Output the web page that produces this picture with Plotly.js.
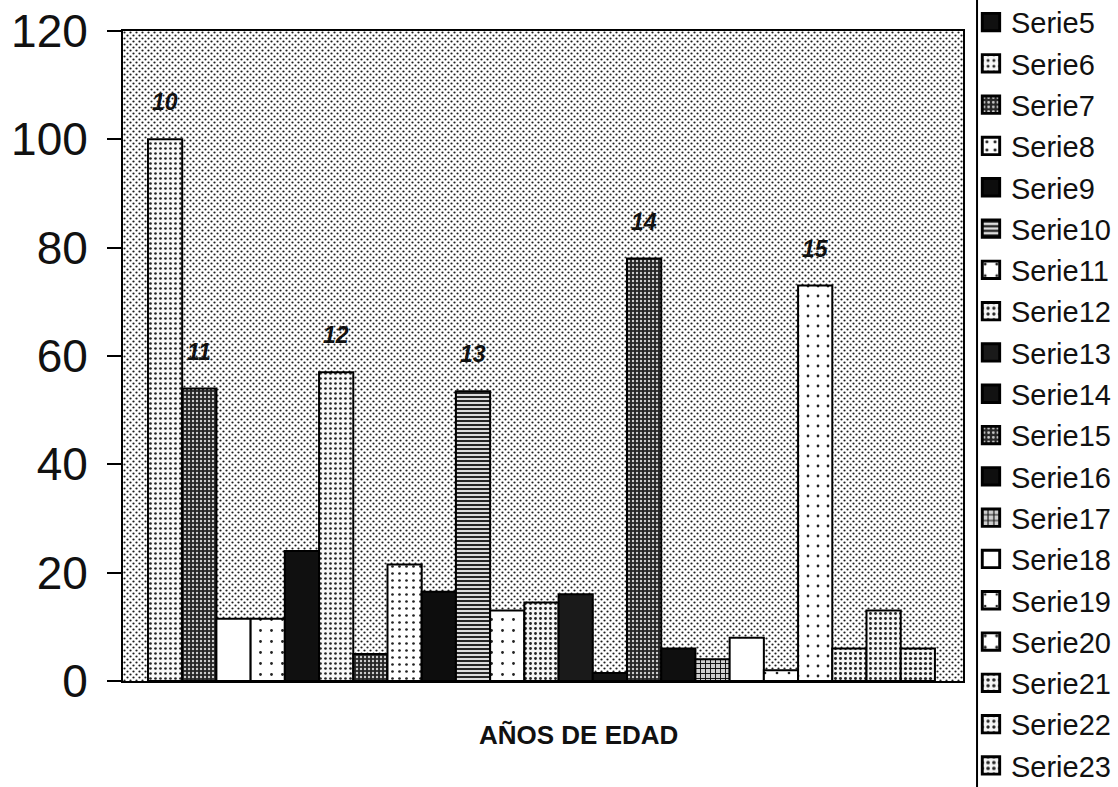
<!DOCTYPE html>
<html>
<head>
<meta charset="utf-8">
<script src="https://cdn.plot.ly/plotly-3.0.1.min.js"></script>
<style>html,body{margin:0;padding:0;background:#fff;}#chart{width:1118px;height:787px;}</style>
</head>
<body>
<div id="chart"></div>
<script>
// ---- data ----
const seriesNames = ['Serie1','Serie2','Serie3','Serie4','Serie5','Serie6','Serie7','Serie8','Serie9','Serie10','Serie11','Serie12','Serie13','Serie14','Serie15','Serie16','Serie17','Serie18','Serie19','Serie20','Serie21','Serie22','Serie23'];
const values = [100, 54, 11.5, 11.5, 24, 57, 5, 21.5, 16.5, 53.5, 13, 14.5, 16, 1.5, 78, 6, 4, 8, 2, 73, 6, 13, 6];
const ageLabels = ['10','11','','','','12','','','','13','','','','','14','','','','','15','','',''];
const yTicks = [0, 20, 40, 60, 80, 100, 120];
const xTitle = 'AÑOS DE EDAD';
const firstLegendSeries = 5; // legend in the reference starts at Serie5 (top cut off)

// ---- styles (fill patterns of the black & white original) ----
const P = (color, shape, fg, bg, size, solidity) => ({color, shape, fg, bg, size, solidity});
const styles = [
  P('#f4f4f4', '.', '#222', '#f7f7f7', 5, 0.22),
  P('#2b2b2b', '.', '#cfcfcf', '#262626', 4, 0.28),
  P('#ffffff', '', '#000', '#fff', 8, 0.1),
  P('#ffffff', '.', '#222', '#ffffff', 11, 0.05),
  P('#101010', '', '#000', '#101010', 8, 0.1),
  P('#f4f4f4', '.', '#222', '#f7f7f7', 5, 0.22),
  P('#2b2b2b', '.', '#cfcfcf', '#262626', 4, 0.28),
  P('#ffffff', '.', '#222', '#ffffff', 7, 0.12),
  P('#0d0d0d', '', '#000', '#0d0d0d', 8, 0.1),
  P('#7a7a7a', '-', '#111', '#dcdcdc', 4, 0.45),
  P('#ffffff', '.', '#222', '#ffffff', 11, 0.05),
  P('#eeeeee', '.', '#222', '#f5f5f5', 5, 0.25),
  P('#1a1a1a', '', '#000', '#1a1a1a', 8, 0.1),
  P('#121212', '', '#000', '#121212', 8, 0.1),
  P('#2b2b2b', '.', '#cfcfcf', '#262626', 4, 0.28),
  P('#0f0f0f', '', '#000', '#0f0f0f', 8, 0.1),
  P('#888888', '+', '#111', '#cfcfcf', 5, 0.35),
  P('#ffffff', '', '#000', '#fff', 8, 0.1),
  P('#ffffff', '.', '#222', '#ffffff', 12, 0.04),
  P('#ffffff', '.', '#222', '#ffffff', 10, 0.06),
  P('#eeeeee', '.', '#222', '#f5f5f5', 5, 0.28),
  P('#eeeeee', '.', '#222', '#f5f5f5', 5, 0.25),
  P('#eeeeee', '.', '#222', '#f5f5f5', 5, 0.3)
];

const traces = seriesNames.map((name, i) => {
  const s = styles[i];
  const marker = {color: s.color, line: {color: '#000', width: 2}};
  if (s.shape) marker.pattern = {shape: s.shape, fgcolor: s.fg, bgcolor: s.bg, size: s.size, solidity: s.solidity, fillmode: 'replace'};
  return {
    type: 'bar', name: name, x: [name], y: [values[i]],
    marker: marker, width: 1, legendgroup: name,
    showlegend: (i + 1) >= firstLegendSeries,
    hoverinfo: 'name+y'
  };
});

const annotations = seriesNames.map((name, i) => ageLabels[i] ? {
  x: name, y: values[i], xref: 'x', yref: 'y', text: '<b><i>' + ageLabels[i] + '</i></b>', showarrow: false,
  yanchor: 'middle', yshift: 37,
  font: {family: 'Liberation Sans, Arial, sans-serif', size: 23, color: '#111'}
} : null).filter(a => a);

annotations.push({
  xref: 'paper', yref: 'paper', x: 0.5417, y: 0, yshift: -54, xanchor: 'center', yanchor: 'middle',
  text: '<b>' + xTitle + '</b>', showarrow: false,
  font: {family: 'Liberation Sans, Arial, sans-serif', size: 26, color: '#111'}
});

// dotted screen of the plot area background
const svg = '<svg xmlns="http://www.w3.org/2000/svg" width="840" height="650" viewBox="0 0 840 650" preserveAspectRatio="none">' +
  '<defs><pattern id="p" width="6" height="6" patternUnits="userSpaceOnUse">' +
  '<rect width="6" height="6" fill="#ffffff"/>' +
  '<circle cx="1.5" cy="1.5" r="1.1" fill="#1e1e1e"/><circle cx="4.5" cy="4.5" r="1.1" fill="#1e1e1e"/>' +
  '</pattern></defs><rect width="840" height="650" fill="url(#p)"/></svg>';

const layout = {
  width: 1118, height: 787,
  margin: {l: 123, r: 155, t: 31, b: 106, autoexpand: false},
  paper_bgcolor: '#ffffff',
  plot_bgcolor: 'rgba(0,0,0,0)',
  barmode: 'overlay', bargap: 0,
  font: {family: 'Liberation Sans, Arial, sans-serif', color: '#111'},
  xaxis: {
    type: 'category', categoryarray: seriesNames, categoryorder: 'array',
    range: [-1.23, 23.32], showticklabels: false, ticks: '', showgrid: false, zeroline: false,
    showline: true, linecolor: '#000', linewidth: 2, mirror: true, fixedrange: true
  },
  yaxis: {
    range: [0, 120], tickvals: yTicks, ticks: 'outside', ticklen: 14, tickwidth: 2, tickcolor: '#000',
    showgrid: false, zeroline: false, showline: true, linecolor: '#000', linewidth: 2, mirror: true,
    tickfont: {family: 'Liberation Sans, Arial, sans-serif', size: 46, color: '#111'},
    ticklabelstandoff: 10, fixedrange: true
  },
  legend: {
    x: 1.0095, xanchor: 'left', y: 1.0528, yanchor: 'top',
    font: {family: 'Liberation Sans, Arial, sans-serif', size: 29, color: '#111'},
    traceorder: 'grouped', tracegroupgap: 0.6, maxheight: 3000,
    bgcolor: 'rgba(0,0,0,0)', borderwidth: 0
  },
  shapes: [{
    type: 'line', xref: 'paper', yref: 'paper', x0: 1.0167, x1: 1.0167, y0: -0.17, y1: 1.06,
    line: {color: '#000', width: 2}
  }],
  images: [{
    source: 'data:image/svg+xml;utf8,' + encodeURIComponent(svg),
    xref: 'paper', yref: 'paper', x: 0, y: 1, sizex: 1, sizey: 1,
    xanchor: 'left', yanchor: 'top', sizing: 'stretch', layer: 'below'
  }],
  annotations: annotations,
  showlegend: true
};

Plotly.newPlot('chart', traces, layout, {displayModeBar: false, staticPlot: true}).then(() => {
  // enlarge the legend swatches to the size of the original's squares (keep their own offset)
  document.querySelectorAll('.legend .legendpoints path').forEach(p => {
    const t = p.getAttribute('transform') || '';
    p.setAttribute('transform', t + ' scale(1.45)');
  });
});
</script>
</body>
</html>
